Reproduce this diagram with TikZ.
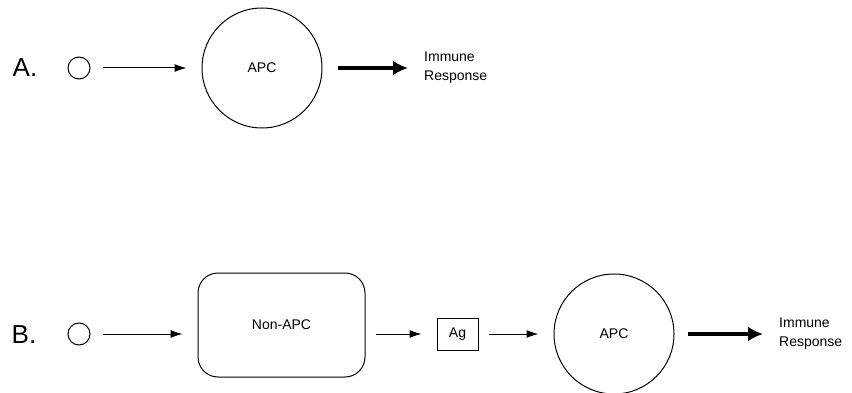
\documentclass[tikz,border=0pt]{standalone}
\usepackage{fontspec}
\setmainfont{Liberation Sans}
\usetikzlibrary{arrows.meta}
\begin{document}
\begin{tikzpicture}[
                x=1pt,y=-1pt,
                every node/.append style={black,font=\fontsize{14}{19}\selectfont},
                dot/.style={draw,circle,line width=1pt,minimum size=22,inner sep=0pt},
                cell/.style={draw,circle,line width=1pt,minimum size=120,inner sep=0pt},
                nonapc/.style={draw,rounded corners=20,line width=1pt,minimum width=167,minimum height=104,inner sep=0pt},
                agbox/.style={draw,line width=1pt,minimum width=41,minimum height=32,inner sep=0pt},
                resp/.style={anchor=west,align=left,inner sep=0pt},
                panel/.style={font=\fontsize{26}{30}\selectfont,inner sep=0pt},
                thinarrow/.style={line width=1pt,-{Latex[length=12,width=8]},shorten <=12,shorten >=15},
                thickarrow/.style={line width=4pt,-{Latex[length=15,width=15]},shorten <=15,shorten >=16}
            ]
                \useasboundingbox (0,0) rectangle (852,393);
                % row A
                \node[panel] (labA) at (25,68) {A.};
                \node[dot] (srcA) at (79,68) {};
                \node[cell] (apcA) at (262,68) {APC};
                \node[resp] (respA) at (424,68) {Immune\\Response};
                \draw[thinarrow] (srcA) -- (apcA);
                \draw[thickarrow] (apcA) -- (respA);
                % row B
                \node[panel] (labB) at (24,335) {B.};
                \node[dot] (srcB) at (79,334) {};
                \node[nonapc] (host) at (281.5,325) {Non-APC};
                \node[agbox] (ag) at (457.5,334) {Ag};
                \node[cell] (apcB) at (614,334) {APC};
                \node[resp] (respB) at (779,334) {Immune\\Response};
                \draw[thinarrow] (srcB) -- (host.west |- srcB);
                \draw[thinarrow,shorten <=10] (host.east |- ag) -- (ag);
                \draw[thinarrow,shorten <=10] (ag) -- (apcB);
                \draw[thickarrow,shorten <=13] (apcB) -- (respB);
            \end{tikzpicture}
\end{document}
